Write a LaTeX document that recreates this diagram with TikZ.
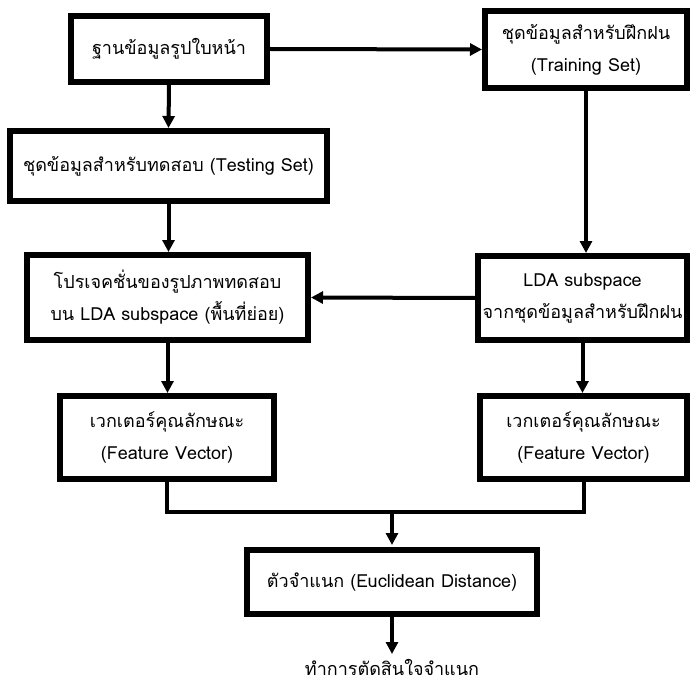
\documentclass[tikz,border=0pt]{standalone}
\usepackage{fontspec}
\setmainfont[Script=Thai]{Loma}
\usetikzlibrary{arrows.meta}
\begin{document}
\begin{tikzpicture}[x=1pt,y=-1pt,
  box/.style={draw=black,line width=6pt,fill=white,align=center,inner sep=0pt,
    font=\fontsize{18}{32}\selectfont},
  conn/.style={line width=4pt},
  arr/.style={line width=4pt,-{Triangle[length=12pt,width=12pt]}}]
\useasboundingbox (0,0) rectangle (691,682);
\fill[white] (0,0) rectangle (691,682);
\node[box,minimum width=196pt,minimum height=66pt] (db) at (169,49) {ฐานข้อมูลรูปใบหน้า};
\node[box,minimum width=202pt,minimum height=77pt] (train) at (586,49.5) {ชุดข้อมูลสำหรับฝึกฝน\\(Training Set)};
\node[box,minimum width=317pt,minimum height=70pt] (test) at (168.5,166) {ชุดข้อมูลสำหรับทดสอบ (Testing Set)};
\node[box,minimum width=281pt,minimum height=85pt] (proj) at (167.5,297.5) {โปรเจคชั่นของรูปภาพทดสอบ\\บน LDA subspace (พื้นที่ย่อย)};
\node[box,minimum width=209pt,minimum height=84pt] (lda) at (582.5,298) {LDA subspace\\จากชุดข้อมูลสำหรับฝึกฝน};
\node[box,minimum width=214pt,minimum height=83pt] (fvl) at (167,437.5) {เวกเตอร์คุณลักษณะ\\(Feature Vector)};
\node[box,minimum width=207pt,minimum height=83pt] (fvr) at (583.5,437.5) {เวกเตอร์คุณลักษณะ\\(Feature Vector)};
\node[box,minimum width=290pt,minimum height=64pt] (cls) at (392,582) {ตัวจำแนก (Euclidean Distance)};
\node[font=\fontsize{18}{20}\selectfont,inner sep=0pt,anchor=base] (res) at (392,675) {ทำการตัดสินใจจำแนก};
\coordinate (m) at (392,512);
\coordinate (rtip) at (392,654);
\draw[arr] (db.east) -- (train.west);
\draw[arr] (db.south) -- (test.north);
\draw[arr] (test.south) -- (test.south |- proj.north);
\draw[arr] (train.south) -- (train.south |- lda.north);
\draw[arr] (lda.west) -- (proj.east);
\draw[arr] (proj.south) -- (proj.south |- fvl.north);
\draw[arr] (lda.south) -- (lda.south |- fvr.north);
\draw[conn] (fvl.south) |- (m) -| (fvr.south);
\draw[arr] (m) -- ([yshift=2pt]cls.north);
\draw[arr] (cls.south) -- (rtip);
\end{tikzpicture}
\end{document}
